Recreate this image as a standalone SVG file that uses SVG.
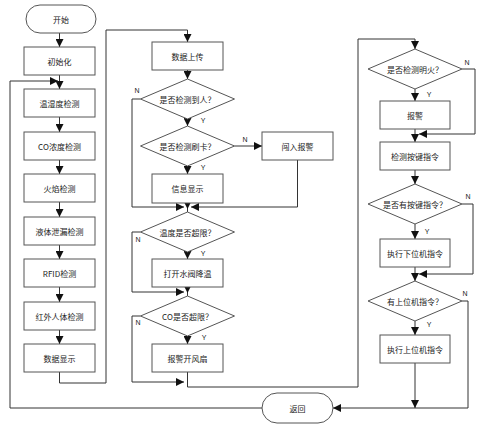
<svg xmlns="http://www.w3.org/2000/svg" width="499" height="426" viewBox="0 0 499 426">
<style>
.box{fill:#fff;stroke:#555;stroke-width:1}
.t{font-family:"Noto Sans CJK SC","Liberation Sans",sans-serif;font-size:8px;fill:#222;text-anchor:middle;dominant-baseline:central}
.l{font-family:"Liberation Sans",sans-serif;font-size:7px;fill:#222;text-anchor:middle}
.c{fill:none;stroke:#333;stroke-width:1}
</style>
<defs>
<marker id="a" markerUnits="userSpaceOnUse" markerWidth="8" markerHeight="8" refX="8" refY="4" orient="auto"><path d="M0,0L8,4L0,8z" fill="#111"/></marker>
</defs>
<rect width="499" height="426" fill="#fff"/>
<g id="connectors">
<path class="c" d="M59.5,33V47" marker-end="url(#a)"/>
<path class="c" d="M59.5,75V89" marker-end="url(#a)"/>
<path class="c" d="M59.5,117V132" marker-end="url(#a)"/>
<path class="c" d="M59.5,160V174" marker-end="url(#a)"/>
<path class="c" d="M59.5,202V217" marker-end="url(#a)"/>
<path class="c" d="M59.5,245V259" marker-end="url(#a)"/>
<path class="c" d="M59.5,287V302" marker-end="url(#a)"/>
<path class="c" d="M59.5,330V344" marker-end="url(#a)"/>
<path class="c" d="M59.5,372V383H106V30H187.5V42" marker-end="url(#a)"/>
<path class="c" d="M262,408H10V81H58" marker-end="url(#a)"/>
<path class="c" d="M187.5,70V79" marker-end="url(#a)"/>
<path class="c" d="M187.5,119V126" marker-end="url(#a)"/>
<path class="c" d="M187.5,166V174" marker-end="url(#a)"/>
<path class="c" d="M140.5,99H132V207H184" marker-end="url(#a)"/>
<path class="c" d="M234.5,146H262" marker-end="url(#a)"/>
<path class="c" d="M297.5,160V207H191" marker-end="url(#a)"/>
<path class="c" d="M187.5,203V209" marker-end="url(#a)"/>
<path class="c" d="M187.5,209V212"/>
<path class="c" d="M187.5,252V259" marker-end="url(#a)"/>
<path class="c" d="M140.5,232H132V292H184" marker-end="url(#a)"/>
<path class="c" d="M187.5,287V293" marker-end="url(#a)"/>
<path class="c" d="M187.5,293V296"/>
<path class="c" d="M187.5,336V344" marker-end="url(#a)"/>
<path class="c" d="M140.5,316H132V382H184" marker-end="url(#a)"/>
<path class="c" d="M187.5,372V387H358V39H415V49" marker-end="url(#a)"/>
<path class="c" d="M415,89V101" marker-end="url(#a)"/>
<path class="c" d="M462,69H475V134H419" marker-end="url(#a)"/>
<path class="c" d="M415,129V142" marker-end="url(#a)"/>
<path class="c" d="M415,170V184" marker-end="url(#a)"/>
<path class="c" d="M415,224V239" marker-end="url(#a)"/>
<path class="c" d="M462,204H473V274H419" marker-end="url(#a)"/>
<path class="c" d="M415,267V281" marker-end="url(#a)"/>
<path class="c" d="M415,321V335" marker-end="url(#a)"/>
<path class="c" d="M462,301H468V408H333" marker-end="url(#a)"/>
<path class="c" d="M415,363V408" marker-end="url(#a)"/>
<text class="l" x="137" y="93">N</text>
<text class="l" x="245" y="142">N</text>
<text class="l" x="138" y="242">N</text>
<text class="l" x="138" y="325">N</text>
<text class="l" x="467" y="65">N</text>
<text class="l" x="468" y="199">N</text>
<text class="l" x="465" y="296">N</text>
<text class="l" x="203" y="123">Y</text>
<text class="l" x="203" y="170">Y</text>
<text class="l" x="203" y="256">Y</text>
<text class="l" x="204" y="340">Y</text>
<text class="l" x="429" y="97">Y</text>
<text class="l" x="427" y="234">Y</text>
<text class="l" x="429" y="327">Y</text>
</g>
<g id="start"><rect class="box" x="26" y="5" width="70" height="28" rx="14"/><text class="t" x="61" y="19">开始</text></g>
<g id="init"><rect class="box" x="24" y="47" width="71" height="28"/><text class="t" x="59.5" y="61">初始化</text></g>
<g id="temp"><rect class="box" x="24" y="89" width="71" height="28"/><text class="t" x="59.5" y="103">温湿度检测</text></g>
<g id="co"><rect class="box" x="24" y="132" width="71" height="28"/><text class="t" x="59.5" y="146">CO浓度检测</text></g>
<g id="fire"><rect class="box" x="24" y="174" width="71" height="28"/><text class="t" x="59.5" y="188">火焰检测</text></g>
<g id="leak"><rect class="box" x="24" y="217" width="71" height="28"/><text class="t" x="59.5" y="231">液体泄漏检测</text></g>
<g id="rfid"><rect class="box" x="24" y="259" width="71" height="28"/><text class="t" x="59.5" y="273">RFID检测</text></g>
<g id="ir"><rect class="box" x="24" y="302" width="71" height="28"/><text class="t" x="59.5" y="316">红外人体检测</text></g>
<g id="display"><rect class="box" x="24" y="344" width="71" height="28"/><text class="t" x="59.5" y="358">数据显示</text></g>
<g id="upload"><rect class="box" x="152" y="42" width="71" height="28"/><text class="t" x="187.5" y="56">数据上传</text></g>
<g id="person"><polygon class="box" points="187.5,79 234.5,99 187.5,119 140.5,99"/><text class="t" x="187.5" y="99">是否检测到人？</text></g>
<g id="card"><polygon class="box" points="187.5,126 234.5,146 187.5,166 140.5,146"/><text class="t" x="187.5" y="146">是否检测刷卡？</text></g>
<g id="intrude"><rect class="box" x="262" y="132" width="71" height="28"/><text class="t" x="297.5" y="146">闯入报警</text></g>
<g id="info"><rect class="box" x="152" y="174" width="71" height="29"/><text class="t" x="187.5" y="188.5">信息显示</text></g>
<g id="tempover"><polygon class="box" points="187.5,212 234.5,232 187.5,252 140.5,232"/><text class="t" x="187.5" y="232">温度是否超限？</text></g>
<g id="valve"><rect class="box" x="152" y="259" width="71" height="28"/><text class="t" x="187.5" y="273">打开水阀降温</text></g>
<g id="coover"><polygon class="box" points="187.5,296 234.5,316 187.5,336 140.5,316"/><text class="t" x="187.5" y="316">CO是否超限？</text></g>
<g id="fan"><rect class="box" x="152" y="344" width="71" height="28"/><text class="t" x="187.5" y="358">报警开风扇</text></g>
<g id="flame"><polygon class="box" points="415,49 462,69 415,89 368,69"/><text class="t" x="415" y="69">是否检测明火？</text></g>
<g id="alarm"><rect class="box" x="380" y="101" width="70" height="28"/><text class="t" x="415" y="115">报警</text></g>
<g id="key"><rect class="box" x="380" y="142" width="70" height="28"/><text class="t" x="415" y="156">检测按键指令</text></g>
<g id="haskey"><polygon class="box" points="415,184 462,204 415,224 368,204"/><text class="t" x="415" y="204">是否有按键指令？</text></g>
<g id="lower"><rect class="box" x="380" y="239" width="70" height="28"/><text class="t" x="415" y="253">执行下位机指令</text></g>
<g id="hasupper"><polygon class="box" points="415,281 462,301 415,321 368,301"/><text class="t" x="415" y="301">有上位机指令？</text></g>
<g id="upper"><rect class="box" x="380" y="335" width="70" height="28"/><text class="t" x="415" y="349">执行上位机指令</text></g>
<g id="return"><rect class="box" x="262" y="393" width="71" height="30" rx="15"/><text class="t" x="297.5" y="408">返回</text></g>
</svg>
